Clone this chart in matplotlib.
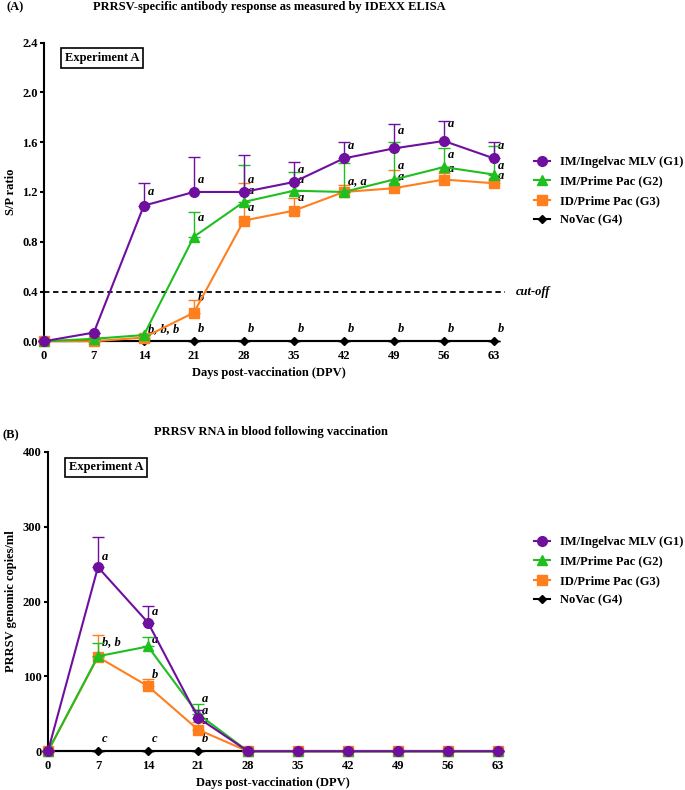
import numpy as np
import matplotlib
matplotlib.use("Agg")
import matplotlib.pyplot as plt
from matplotlib.lines import Line2D

plt.rcParams['font.family'] = ['Liberation Serif', 'DejaVu Serif']
plt.rcParams['font.weight'] = 'bold'

days = [0, 7, 14, 21, 28, 35, 42, 49, 56, 63]
groups = ["IM/Ingelvac MLV (G1)", "IM/Prime Pac (G2)", "ID/Prime Pac (G3)", "NoVac (G4)"]
colors = ["#6f0f9e", "#1fbf1f", "#ff7f1f", "#000000"]
markers = ["o", "^", "s", "D"]
msizes = [7, 6.5, 6.5, 4]

# panel A: S/P ratio (mean, upper SEM)
sp_g1 = [0.0, 0.07, 1.09, 1.20, 1.20, 1.28, 1.47, 1.55, 1.61, 1.47]
sp_g2 = [0.0, 0.02, 0.05, 0.84, 1.12, 1.21, 1.20, 1.30, 1.40, 1.34]
sp_g3 = [0.0, 0.0, 0.03, 0.23, 0.97, 1.05, 1.20, 1.23, 1.30, 1.27]
sp_g4 = [0.0] * 10
sp_err_g1 = [0.0, 0.0, 0.18, 0.28, 0.30, 0.16, 0.13, 0.20, 0.16, 0.13]
sp_err_g2 = [0.0, 0.0, 0.0, 0.20, 0.30, 0.15, 0.23, 0.30, 0.15, 0.23]
sp_err_g3 = [0.0, 0.0, 0.0, 0.10, 0.30, 0.10, 0.06, 0.15, 0.05, 0.03]
sp_err_g4 = [0.0] * 10
cutoff = 0.4

# panel B: PRRSV RNA (mean, upper SEM)
rna_g1 = [0, 246, 172, 45, 0, 0, 0, 0, 0, 0]
rna_g2 = [0, 127, 140, 50, 0, 0, 0, 0, 0, 0]
rna_g3 = [0, 126, 87, 29, 0, 0, 0, 0, 0, 0]
rna_g4 = [0] * 10
rna_err_g1 = [0, 40, 22, 10, 0, 0, 0, 0, 0, 0]
rna_err_g2 = [0, 18, 13, 13, 0, 0, 0, 0, 0, 0]
rna_err_g3 = [0, 29, 9, 10, 0, 0, 0, 0, 0, 0]
rna_err_g4 = [0] * 10

# significance letters (day, y, text)
letters_a = [(14, 0.05, "b, b, b"), (21, 0.30, "b"), (21, 0.05, "b"),
             (28, 0.05, "b"), (35, 0.05, "b"), (42, 0.05, "b"), (49, 0.05, "b"),
             (56, 0.05, "b"), (63, 0.05, "b"),
             (14, 1.15, "a"), (21, 1.25, "a"), (21, 0.94, "a"),
             (28, 1.25, "a"), (28, 1.16, "a"), (28, 1.02, "a"),
             (35, 1.33, "a"), (35, 1.25, "a"), (35, 1.10, "a"),
             (42, 1.52, "a"), (42, 1.24, "a, a"),
             (49, 1.64, "a"), (49, 1.36, "a"), (49, 1.27, "a"),
             (56, 1.70, "a"), (56, 1.45, "a"), (56, 1.34, "a"),
             (63, 1.52, "a"), (63, 1.36, "a"), (63, 1.28, "a")]
letters_b = [(7, 252, "a"), (7, 138, "b, b"), (14, 178, "a"), (14, 141, "a"),
             (14, 94, "b"), (21, 62, "a"), (21, 46, "a"), (21, 32, "a"),
             (7, 8, "c"), (14, 8, "c"), (21, 8, "b")]

fig = plt.figure(figsize=(6.85, 7.9), dpi=100)
axA = fig.add_axes([0.064, 0.568, 0.657, 0.378])
axB = fig.add_axes([0.070, 0.049, 0.657, 0.379])


def draw(ax, series, errs, letters, ymax, ystep, yfmt, ylabel):
    for i in [3, 2, 1, 0]:
        y = np.array(series[i], dtype=float)
        e = np.array(errs[i], dtype=float)
        ax.errorbar(days, y, yerr=[np.zeros_like(e), e], color=colors[i],
                    marker=markers[i], markersize=msizes[i], linewidth=1.5,
                    elinewidth=1.0, capsize=4, capthick=1.0, clip_on=False,
                    zorder=3 + (3 - i))
    for d, yv, t in letters:
        ax.annotate(t, (d, yv), xytext=(3, 0), textcoords="offset points",
                    fontsize=9, style="italic", fontweight="bold",
                    va="bottom", ha="left")
    ax.set_xlim(0, 63)
    ax.set_ylim(0, ymax)
    ax.set_xticks(days)
    ax.set_yticks(np.arange(0, ymax + ystep / 2, ystep))
    ax.yaxis.set_major_formatter(plt.FormatStrFormatter(yfmt))
    for s in ["top", "right"]:
        ax.spines[s].set_visible(False)
    for s in ["left", "bottom"]:
        ax.spines[s].set_linewidth(1.5)
    ax.tick_params(axis="y", width=1.5, length=3, labelsize=9, pad=1.5)
    ax.tick_params(axis="x", width=1.5, length=3, labelsize=9, pad=3)
    for lab in ax.get_xticklabels() + ax.get_yticklabels():
        lab.set_fontweight("bold")
    ax.set_xlabel("Days post-vaccination (DPV)", fontsize=9, fontweight="bold", labelpad=4)
    ax.set_ylabel(ylabel, fontsize=9, fontweight="bold", labelpad=4)
    ax.text(0.047, 0.968, "Experiment A", transform=ax.transAxes, fontsize=9,
            fontweight="bold", va="top", ha="left",
            bbox=dict(boxstyle="square,pad=0.3", fc="white", ec="black", lw=1.2))


draw(axA, [sp_g1, sp_g2, sp_g3, sp_g4],
     [sp_err_g1, sp_err_g2, sp_err_g3, sp_err_g4], letters_a, 2.4, 0.4, "%.1f", "S/P ratio")
axA.plot([0, 64.5], [cutoff, cutoff], color="black", linestyle=(0, (3, 2)),
         linewidth=1.3, clip_on=False, zorder=2)
axA.text(66, cutoff, "cut-off", fontsize=9, style="italic", fontweight="bold",
         va="center", ha="left")

draw(axB, [rna_g1, rna_g2, rna_g3, rna_g4],
     [rna_err_g1, rna_err_g2, rna_err_g3, rna_err_g4], letters_b, 400, 100, "%d",
     "PRRSV genomic copies/ml")

handles = [Line2D([], [], color=colors[i], marker=markers[i], markersize=msizes[i],
                  linewidth=1.5) for i in range(4)]
for ypos in [1 - 156 / 790, 1 - 536 / 790]:
    fig.legend(handles, groups, loc="upper left", bbox_to_anchor=(534 / 685, ypos),
               frameon=False, handlelength=1.3, handletextpad=0.8,
               labelspacing=0.6, borderpad=0, borderaxespad=0,
               prop={"weight": "bold", "size": 9})

fig.text(0.010, 0.991, "(A)", fontsize=9, fontweight="bold", va="center")
fig.text(0.393, 0.991, "PRRSV-specific antibody response as measured by IDEXX ELISA",
         fontsize=9, fontweight="bold", va="center", ha="center")
fig.text(0.004, 0.449, "(B)", fontsize=9, fontweight="bold", va="center")
fig.text(0.396, 0.453, "PRRSV RNA in blood following vaccination",
         fontsize=9, fontweight="bold", va="center", ha="center")

fig.savefig("out.png", dpi=100)
